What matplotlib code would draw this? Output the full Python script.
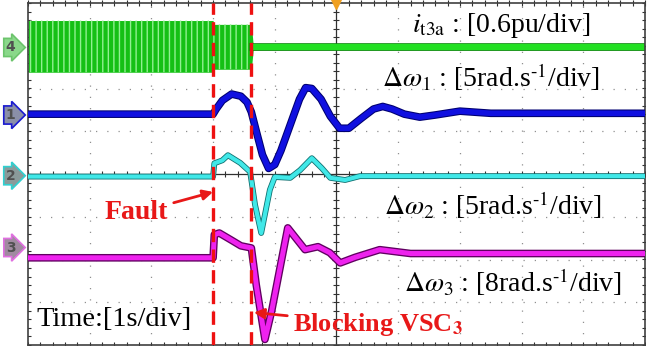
import numpy as np
import matplotlib.pyplot as plt
import matplotlib.patheffects as pe

plt.rcParams['font.family'] = ['Liberation Serif', 'DejaVu Serif']
plt.rcParams['mathtext.fontset'] = 'stix'

# time in s (1 s/div), values in screen divisions (channel offset included)
t_fault = 3.0
t_block = 3.62

# ch4: i_t3a envelope
t_ch4 = [0.0, 3.0, 3.01, 3.62, 3.65, 10.0]
ch4_top = [3.59, 3.59, 3.50, 3.50, 3.02, 3.02]
ch4_bot = [2.38, 2.38, 2.45, 2.45, 2.90, 2.90]

# ch1: delta omega 1
t_ch1 = [0.0, 3.0, 3.05, 3.15, 3.3, 3.45, 3.55, 3.62, 3.7, 3.8, 3.9, 4.0, 4.1,
         4.25, 4.4, 4.5, 4.6, 4.75, 4.9, 5.05, 5.2, 5.4, 5.6, 5.75, 5.9, 6.1,
         6.35, 6.6, 7.0, 7.5, 10.0]
ch1 = [1.40, 1.40, 1.52, 1.72, 1.87, 1.82, 1.68, 1.45, 1.00, 0.45, 0.13, 0.22,
       0.55, 1.15, 1.75, 2.02, 2.00, 1.75, 1.35, 1.07, 1.07, 1.30, 1.52, 1.58,
       1.52, 1.40, 1.33, 1.38, 1.47, 1.42, 1.42]

# ch2: delta omega 2
t_ch2 = [0.0, 3.0, 3.02, 3.15, 3.24, 3.44, 3.6, 3.68, 3.78, 3.92, 4.0, 4.25,
         4.41, 4.6, 4.76, 4.9, 5.14, 5.38, 10.0]
ch2 = [-0.06, -0.06, 0.25, 0.32, 0.44, 0.26, 0.05, -0.72, -1.38, -0.37, -0.07,
       -0.09, 0.09, 0.37, 0.14, -0.09, -0.14, -0.05, -0.05]

# ch3: delta omega 3
t_ch3 = [0.0, 3.0, 3.02, 3.1, 3.3, 3.45, 3.62, 3.7, 3.84, 3.95, 4.21, 4.49,
         4.7, 4.89, 5.06, 5.3, 5.7, 6.2, 10.0]
ch3 = [-1.96, -1.96, -1.42, -1.38, -1.55, -1.68, -1.73, -2.6, -3.87, -3.2,
       -1.26, -1.77, -1.70, -1.84, -2.08, -1.95, -1.77, -1.86, -1.86]

ch_labels = ['4', '1', '2', '3']
ch_marker_y = [2.96, 1.38, -0.04, -1.72]
ch_edge = ['#6cc46c', '#1a1ad0', '#30d0d0', '#e070e0']
ch_face = ['#8ad88a', '#8a8fa8', '#8a9a9a', '#a08aa0']

fig = plt.figure(figsize=(6.58, 3.51), dpi=100)
ax = fig.add_axes([28 / 658, 6 / 351, 617 / 658, 342 / 351])
ax.set_xlim(0, 10)
ax.set_ylim(-4, 4)
ax.set_xticks([])
ax.set_yticks([])
for s in ax.spines.values():
    s.set_color('#404040')
    s.set_linewidth(1.2)

# graticule
for gx in range(1, 10):
    if gx != 5:
        ax.axvline(gx, color='#909090', lw=0.9, ls=(0, (1, 8)), zorder=0)
for gy in range(-3, 4):
    if gy != 0:
        ax.axhline(gy, color='#909090', lw=0.9, ls=(0, (1, 8)), zorder=0)
ax.axhline(0, color='#303030', lw=0.9, zorder=0)
ax.axvline(5, color='#303030', lw=0.9, zorder=0)
tx = np.arange(0, 10.01, 0.2)
ty = np.arange(-4, 4.01, 0.2)
ax.plot(tx, np.zeros_like(tx), '|', color='#303030', ms=4, mew=0.8, zorder=0)
ax.plot(np.full_like(ty, 5), ty, '_', color='#303030', ms=4, mew=0.8, zorder=0)
ax.plot(tx, np.full_like(tx, 4), '|', color='#303030', ms=5, mew=0.8, zorder=0, clip_on=False)
ax.plot(np.zeros_like(ty), ty, '_', color='#303030', ms=4, mew=0.8, zorder=0)
ax.plot(np.full_like(ty, 10), ty, '_', color='#303030', ms=4, mew=0.8, zorder=0)
ax.plot(tx, np.full_like(tx, -4), '|', color='#303030', ms=4, mew=0.8, zorder=0)
ax.plot([5], [3.98], marker='v', color='#f0a020', ms=7, clip_on=False, zorder=6)

# traces
ax.fill_between(t_ch4, ch4_bot, ch4_top, color='#14c014', lw=0, zorder=2)
ax.fill_between(t_ch4[:4], ch4_bot[:4], ch4_top[:4], facecolor='none',
                edgecolor='#90f090', hatch='|||', lw=0, zorder=2)
ax.plot(t_ch4[4:], [2.96, 2.96], color='#22e022', lw=4.5, zorder=2,
        path_effects=[pe.Stroke(linewidth=5.5, foreground='#108010'), pe.Normal()])

outline = lambda c: [pe.Stroke(linewidth=5.5, foreground=c), pe.Normal()]
ax.plot(t_ch1, ch1, color='#1010e0', lw=4, zorder=3, solid_joinstyle='round',
        path_effects=outline('#000070'))
ax.plot(t_ch2, ch2, color='#40e8e8', lw=3, zorder=3, solid_joinstyle='round',
        path_effects=[pe.Stroke(linewidth=4.2, foreground='#107070'), pe.Normal()])
ax.plot(t_ch3, ch3, color='#ee22ee', lw=3.6, zorder=3, solid_joinstyle='round',
        path_effects=outline('#600060'))

# event lines
for tv in (t_fault, t_block):
    ax.axvline(tv, color='#ee1111', lw=2.4, ls=(0, (4, 2.2)), zorder=5)

# channel markers
for lab, yv, ec, fc in zip(ch_labels, ch_marker_y, ch_edge, ch_face):
    ax.text(-0.28, yv, lab, fontsize=10, color='#505050', ha='center', va='center',
            family='DejaVu Sans', fontweight='bold', clip_on=False,
            bbox=dict(boxstyle='rarrow,pad=0.15', fc=fc, ec=ec, lw=1.2))

# labels
fs = 20
sup = r'$^{\text{-1}}$'
ax.text(7.67, 3.47, r'$i_{\rm t3a}$ : [0.6pu/div]', fontsize=fs, ha='center', va='center', zorder=7)
ax.text(7.50, 2.26, r'$\Delta\omega_1$ : [5rad.s' + sup + '/div]', fontsize=fs, ha='center', va='center', zorder=7)
ax.text(7.54, -0.72, r'$\Delta\omega_2$ : [5rad.s' + sup + '/div]', fontsize=fs, ha='center', va='center', zorder=7)
ax.text(7.86, -2.54, r'$\Delta\omega_3$ : [8rad.s' + sup + '/div]', fontsize=fs, ha='center', va='center', zorder=7)
ax.text(1.40, -3.40, 'Time:[1s/div]', fontsize=20.5, ha='center', va='center', zorder=7)

red = '#e81818'
ax.annotate('Fault', xy=(3.0, -0.42), xytext=(1.76, -0.91), fontsize=20,
            fontweight='bold', color=red, ha='center', va='center', zorder=7,
            arrowprops=dict(arrowstyle='-|>', color=red, lw=2, mutation_scale=15,
                            shrinkA=2, shrinkB=0))
ax.annotate(r'Blocking VSC$_\mathbf{3}$', xy=(3.66, -3.24), xytext=(5.67, -3.52),
            fontsize=19, fontweight='bold', color=red, ha='center', va='center', zorder=7,
            arrowprops=dict(arrowstyle='-|>', color=red, lw=2, mutation_scale=15,
                            shrinkA=2, shrinkB=0))

fig.savefig('out.png', dpi=100)
